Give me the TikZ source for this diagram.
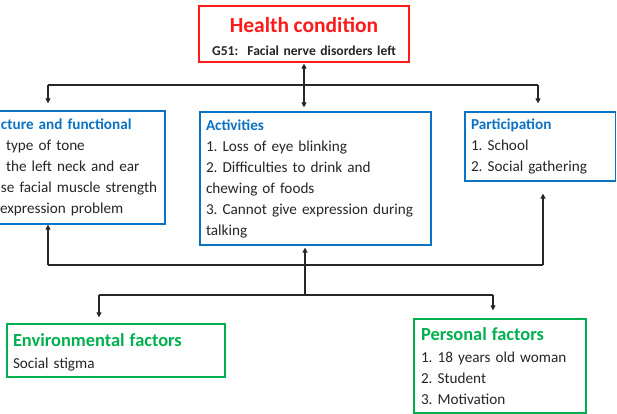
\documentclass[tikz,border=0pt]{standalone}
\usepackage{fontspec}
\setmainfont{Carlito}
\usetikzlibrary{arrows.meta}
\definecolor{hcred}{HTML}{FF1A1A}
\definecolor{icfblue}{HTML}{0B72C4}
\definecolor{icfgreen}{HTML}{00B050}
\definecolor{txtgray}{HTML}{262626}
\begin{document}
\begin{tikzpicture}[x=1pt,y=-1pt,
  box/.style={draw, line width=1.3pt, inner xsep=6pt, inner ysep=0pt, align=left,
    font=\fontsize{15.2}{21}\selectfont\frenchspacing, text=txtgray},
  bluebox/.style={box, draw=icfblue},
  greenbox/.style={box, draw=icfgreen},
  redbox/.style={box, draw=hcred, align=center, font=\fontsize{13.6}{22.5}\selectfont\bfseries\frenchspacing},
  conn/.style={line width=1.3pt, draw=black!85},
  tip/.style={-{Triangle[length=5pt,width=5pt]}},
  dtip/.style={{Triangle[length=5pt,width=5pt]}-{Triangle[length=5pt,width=5pt]}},
]
\useasboundingbox (0,0) rectangle (617,414);
\fill[white] (0,0) rectangle (617,414);

\node[redbox, text width=198pt, minimum height=56pt] (hc) at (304,34)
  {{\fontsize{21.5}{24}\selectfont\color{hcred}\rule{0pt}{20pt}Health condition}\\
   G51:\ \ Facial nerve disorders left};

\node[bluebox, text width=163pt, minimum height=113pt] (bs) at (77.5,167.5)
  {\hspace*{5pt}\textcolor{icfblue}{\bfseries cture and functional}\\
   \hspace*{10pt}type of tone\\
   \hspace*{10pt}the left neck and ear\\
   \hspace*{5pt}se facial muscle strength\\
   \hspace*{4pt}expression problem};

\node[bluebox, text width=219pt, minimum height=133pt] (act) at (315.5,178.5)
  {\textcolor{icfblue}{\bfseries Activities}\\
   1. Loss of eye blinking\\
   2. Difficulties to drink and\\
   chewing of foods\\
   3. Cannot give expression during\\
   talking};

\node[bluebox, text width=138.5pt, minimum height=69pt] (par) at (540.25,146.5)
  {\textcolor{icfblue}{\bfseries Participation}\\
   1. School\\
   2. Social gathering};

\node[greenbox, text width=206pt, minimum height=53pt] (env) at (116,350.5)
  {{\fontsize{18.4}{22}\selectfont\bfseries\color{icfgreen}\rule{0pt}{17.5pt}Environmental factors}\\[1pt]
   Social stigma};

\node[greenbox, text width=158pt, inner xsep=7pt, minimum height=94pt] (per) at (500,366)
  {{\fontsize{18.4}{22}\selectfont\bfseries\color{icfgreen}Personal factors}\\[1pt]
   1. 18 years old woman\\
   2. Student\\
   3. Motivation};

% top connectors
\draw[conn, dtip, shorten <=1pt, shorten >=4pt] (hc.south) -- (hc.south |- act.north);
\coordinate (tl) at (48,85);
\coordinate (tr) at (538,85);
\draw[conn] (tl) -- (tr);
\draw[conn, tip, shorten >=7pt] (tl) -- (tl |- bs.north);
\draw[conn, tip, shorten >=8pt] (tr) -- (tr |- par.north);

% lower connectors
\coordinate (bl) at (48,265);
\coordinate (br) at (543,265);
\draw[conn] (bl) -- (br);
\draw[conn, tip] (bl) -- (bl |- bs.south);
\draw[conn, tip, shorten >=12pt] (br) -- (br |- par.south);
\coordinate (mb) at (305,295);
\draw[conn, tip, shorten >=2pt] (mb) -- (mb |- act.south);
\coordinate (ml) at (99,295);
\coordinate (mr) at (493,295);
\draw[conn] (ml) -- (mr);
\draw[conn, tip, shorten >=6pt] (ml) -- (ml |- env.north);
\draw[conn, tip, shorten >=8pt] (mr) -- (mr |- per.north);
\end{tikzpicture}
\end{document}
